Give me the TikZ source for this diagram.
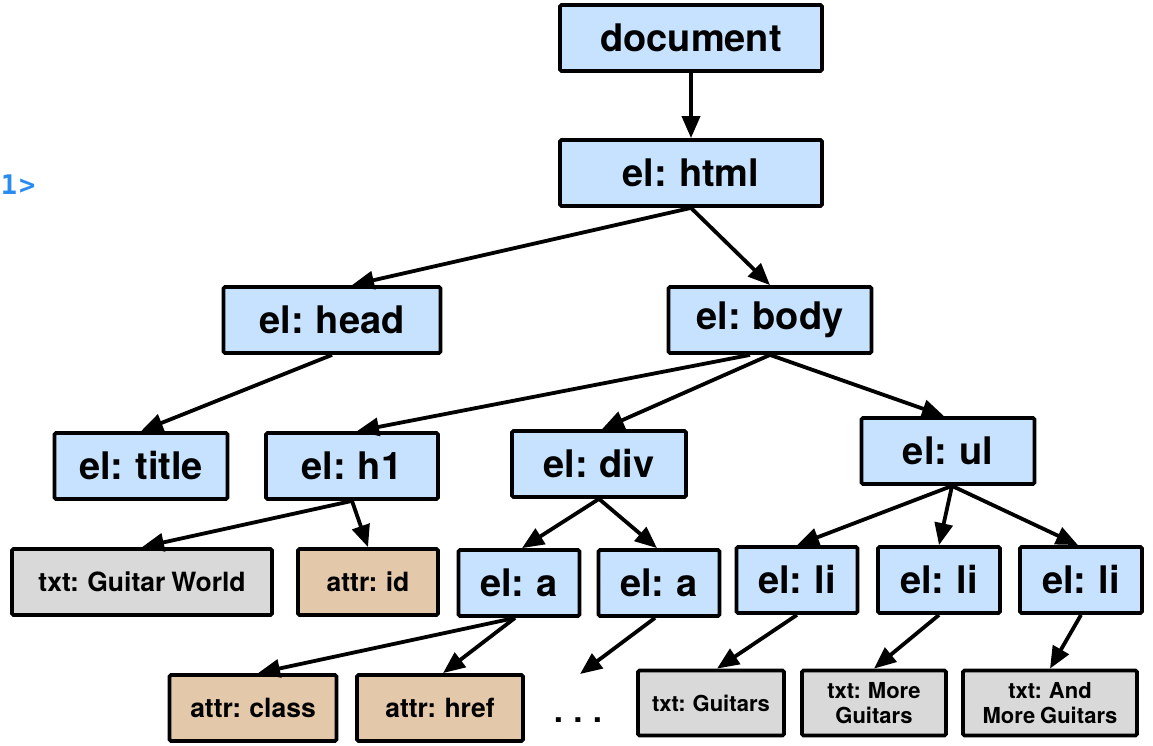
\documentclass[tikz,border=0pt]{standalone}
\usepackage{fontspec}
\setmainfont{TeX Gyre Heros}[WordSpace=0.8]
\newfontfamily\promptfont{DejaVu Sans Mono}
\usetikzlibrary{arrows.meta}
\definecolor{elblue}{RGB}{198,226,254}
\definecolor{txtgray}{RGB}{217,217,217}
\definecolor{attrtan}{RGB}{228,200,170}
\definecolor{promptblue}{RGB}{40,140,240}

\begin{document}
\begin{tikzpicture}[x=1pt,y=-1pt,-{Triangle[length=22pt,width=18pt]},line width=3.8pt,
  box/.style={draw, rounded corners=1.5pt, minimum height=66pt, inner sep=0pt,
    font=\fontsize{38}{42}\selectfont\bfseries},
  el/.style={box, fill=elblue, minimum width=#1},
  attr/.style={box, fill=attrtan, minimum width=#1, font=\fontsize{26.5}{29}\selectfont\bfseries},
  txt/.style={box, fill=txtgray, minimum width=#1, font=\fontsize{26.5}{29}\selectfont\bfseries},
  smalltxt/.style={txt=#1, minimum height=65pt, align=center, font=\fontsize{22}{25}\selectfont\bfseries}]
\useasboundingbox (0,0) rectangle (1153,745);
\node[anchor=base west, inner sep=0pt, text=promptblue, font=\promptfont\fontsize{27}{29}\selectfont\bfseries] (prompt) at (-1,194) {1\kern2pt>};
% tree levels
\node[el=262] (doc) at (691,38) {document};
\node[el=262] (html) at (691,173) {el: html};
\node[el=217] (head) at (332,320) {el: head};
\node[el=203] (body) at (770,320) {el: body};
\node[el=173] (title) at (141,466) {el: title};
\node[el=172] (h1) at (352,466) {el: h1};
\node[el=174] (div) at (599,464) {el: div};
\node[el=173] (ul) at (948,451) {el: ul};
\node[txt=260] (world) at (142,582) {txt: Guitar World};
\node[attr=140] (id) at (368,582) {attr: id};
\node[el=121] (a1) at (519,583) {el: a};
\node[el=121] (a2) at (659,583) {el: a};
\node[el=121] (li1) at (797,580) {el: li};
\node[el=122] (li2) at (939,580) {el: li};
\node[el=122] (li3) at (1081,580) {el: li};
\node[attr=167] (class) at (253,708) {attr: class};
\node[attr=166] (href) at (440,708) {attr: href};
\node[anchor=base, inner sep=0pt, font=\fontsize{33}{36}\selectfont\bfseries] (dots) at (578,722) {. . .};
\coordinate (dotsend) at (580,674);
\node[smalltxt=146] (guitars) at (711,703) {txt: Guitars};
\node[smalltxt=144] (more) at (874,703) {txt: More\\Guitars};
\node[smalltxt=174] (andmore) at (1050,703) {txt: And\\More Guitars};
% edges
\draw (doc) -- (html);
\draw (html.south) -- ([xshift=20pt]head.north);
\draw (html.south) -- (body.north);
\draw (head.south) -- (title.north);
\draw ([xshift=-20pt]body.south) -- ([xshift=5pt]h1.north);
\draw (body.south) -- ([xshift=3pt]div.north);
\draw (body.south) -- ([xshift=-4pt]ul.north);
\draw (h1.south) -- (world.north);
\draw (h1.south) -- (id.north);
\draw (div.south) -- ([xshift=3pt]a1.north);
\draw (div.south) -- ([xshift=-2pt]a2.north);
\draw ([xshift=4pt]ul.south) -- (li1.north);
\draw ([xshift=4pt]ul.south) -- (li2.north);
\draw ([xshift=4pt]ul.south) -- ([xshift=-3pt]li3.north);
\draw ([xshift=-4pt]a1.south) -- ([xshift=5pt]class.north);
\draw ([xshift=-4pt]a1.south) -- ([xshift=3pt]href.north);
\draw ([xshift=-4pt]a2.south) -- (dotsend);
\draw (li1.south) -- ([xshift=6pt]guitars.north);
\draw (li2.south) -- (more.north);
\draw (li3.south) -- (andmore.north);
\end{tikzpicture}
\end{document}
